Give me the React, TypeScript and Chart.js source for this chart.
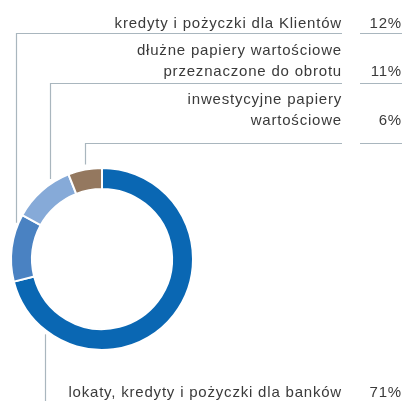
import React, { useEffect, useRef } from "react";
import { Chart, registerables } from "chart.js";

Chart.register(...registerables);

const categories = [
  "lokaty, kredyty i pożyczki dla banków",
  "kredyty i pożyczki dla Klientów",
  "dłużne papiery wartościowe\nprzeznaczone do obrotu",
  "inwestycyjne papiery\nwartościowe",
];
const shares = [71, 12, 11, 6];
const shareLabels = ["71%", "12%", "11%", "6%"];
const segmentColors = ["#0a67b3", "#4a82c2", "#86aad8", "#94785f"];

// callout layout (annotation placement, not data)
const calloutXOffset = [-57, -86, -52, -17];
const calloutLineY = [0, 33, 83, 143];
const calloutBaselines = [[397], [27.5], [54.5, 75.5], [103.5, 124.5]];

const LINE_COLOR = "#a9b6be";
const TEXT_COLOR = "#3a3a3a";
const FONT = "15px 'Liberation Sans', Arial, sans-serif";
const LETTER_SPACING = "0.8px";
const LABEL_RIGHT = 342;
const PCT_RIGHT = 402;
const LABEL_LINE_END = 342;
const PCT_LINE_START = 360;
const PCT_LINE_END = 402;

const calloutPlugin = {
  id: "callouts",
  afterDraw(chart: any) {
    const meta = chart.getDatasetMeta(0);
    const arc = meta.data[0];
    if (!arc) return;
    const cx = arc.x;
    const cy = arc.y;
    const R = arc.outerRadius;
    const ctx = chart.ctx;
    ctx.save();
    ctx.strokeStyle = LINE_COLOR;
    ctx.lineWidth = 1.2;
    ctx.font = FONT;
    try {
      (ctx as any).letterSpacing = LETTER_SPACING;
    } catch (e) {}
    ctx.fillStyle = TEXT_COLOR;
    ctx.textBaseline = "alphabetic";
    categories.forEach((cat, i) => {
      const x = Math.round(cx + calloutXOffset[i]) + 0.5;
      const dy = Math.sqrt(Math.max(R * R - (x - cx) * (x - cx), 0));
      const lines = cat.split("\n");
      const bases = calloutBaselines[i];
      if (i === 0) {
        ctx.beginPath();
        ctx.moveTo(x, cy + dy + 4);
        ctx.lineTo(x, chart.height);
        ctx.stroke();
      } else {
        const ly = calloutLineY[i] + 0.5;
        ctx.beginPath();
        ctx.moveTo(x, cy - dy - 5);
        ctx.lineTo(x, ly);
        ctx.lineTo(LABEL_LINE_END, ly);
        ctx.stroke();
        ctx.beginPath();
        ctx.moveTo(PCT_LINE_START, ly);
        ctx.lineTo(PCT_LINE_END, ly);
        ctx.stroke();
      }
      ctx.textAlign = "right";
      lines.forEach((t, k) => {
        ctx.fillText(t, LABEL_RIGHT, bases[k]);
      });
      ctx.fillText(shareLabels[i], PCT_RIGHT, bases[bases.length - 1]);
    });
    ctx.restore();
  },
};

export default function App() {
  const ref = useRef<HTMLCanvasElement | null>(null);
  useEffect(() => {
    document.body.style.margin = "0";
    const canvas = ref.current;
    if (!canvas) return;
    const chart = new Chart(canvas, {
      type: "doughnut",
      data: {
        labels: categories,
        datasets: [
          {
            data: shares,
            backgroundColor: segmentColors,
            borderColor: "#ffffff",
            borderWidth: 2,
            hoverOffset: 0,
          },
        ],
      },
      options: {
        responsive: false,
        animation: false,
        cutout: "77%",
        rotation: 0,
        layout: { padding: { left: 10, right: 209, top: 167, bottom: 50 } },
        plugins: {
          legend: { display: false },
          tooltip: { enabled: false },
        },
      },
      plugins: [calloutPlugin],
    });
    return () => chart.destroy();
  }, []);
  return (
    <div style={{ width: 403, height: 401, background: "#fff" }}>
      <canvas ref={ref} width={403} height={401} style={{ display: "block" }} />
    </div>
  );
}
